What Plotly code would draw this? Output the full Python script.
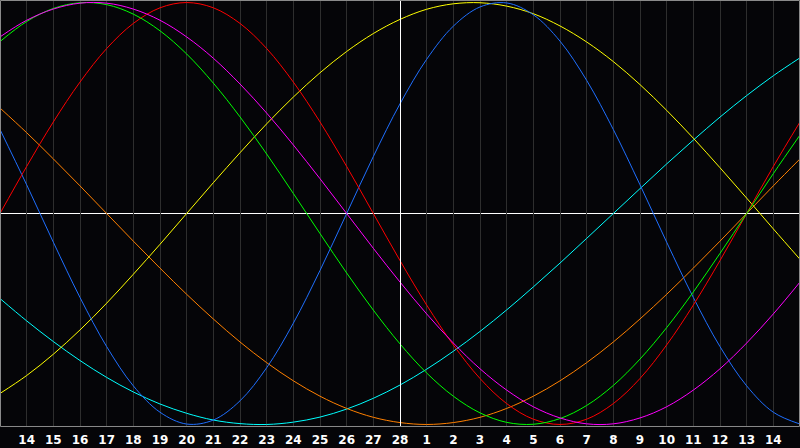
import plotly.graph_objects as go

# day index 0..30 (x=0 is the 13th, x=30 is the 15th of next month)
days = list(range(31))
tick_positions = list(range(1, 30))
tick_labels = ["14", "15", "16", "17", "18", "19", "20", "21", "22", "23", "24", "25", "26", "27", "28",
               "1", "2", "3", "4", "5", "6", "7", "8", "9", "10", "11", "12", "13", "14"]

physical = [0.398, 0.136, -0.136, -0.398, -0.631, -0.817, -0.942, -0.998, -0.979, -0.888, -0.731, -0.520,
            -0.270, 0.000, 0.270, 0.520, 0.731, 0.888, 0.979, 0.998, 0.942, 0.817, 0.631, 0.398, 0.136,
            -0.136, -0.398, -0.631, -0.817, -0.942, -0.998]
emotional = [0.000, 0.223, 0.434, 0.623, 0.782, 0.901, 0.975, 1.000, 0.975, 0.901, 0.782, 0.623, 0.434,
             0.223, 0.000, -0.223, -0.434, -0.623, -0.782, -0.901, -0.975, -1.000, -0.975, -0.901, -0.782,
             -0.623, -0.434, -0.223, 0.000, 0.223, 0.434]
intellectual = [0.815, 0.910, 0.972, 0.999, 0.990, 0.945, 0.866, 0.756, 0.618, 0.458, 0.282, 0.095, -0.095,
                -0.282, -0.458, -0.618, -0.756, -0.866, -0.945, -0.990, -0.999, -0.972, -0.910, -0.815,
                -0.690, -0.541, -0.372, -0.189, 0.000, 0.189, 0.372]
intuitive = [0.837, 0.916, 0.969, 0.997, 0.997, 0.969, 0.916, 0.837, 0.736, 0.614, 0.476, 0.325, 0.165,
             0.000, -0.165, -0.325, -0.476, -0.614, -0.736, -0.837, -0.916, -0.969, -0.997, -0.997, -0.969,
             -0.916, -0.837, -0.736, -0.614, -0.476, -0.325]
aesthetic = [-0.853, -0.768, -0.667, -0.552, -0.425, -0.288, -0.146, 0.000, 0.146, 0.288, 0.425, 0.552,
             0.667, 0.768, 0.853, 0.920, 0.968, 0.994, 0.999, 0.983, 0.947, 0.889, 0.813, 0.720, 0.611,
             0.489, 0.357, 0.217, 0.073, -0.073, -0.217]
awareness = [0.500, 0.383, 0.259, 0.131, 0.000, -0.131, -0.259, -0.383, -0.500, -0.609, -0.707, -0.793,
             -0.866, -0.924, -0.966, -0.991, -1.000, -0.991, -0.966, -0.924, -0.866, -0.793, -0.707, -0.609,
             -0.500, -0.383, -0.259, -0.131, 0.000, 0.131, 0.259]
spiritual = [-0.403, -0.509, -0.607, -0.697, -0.777, -0.846, -0.903, -0.947, -0.979, -0.996, -1.000, -0.989,
             -0.965, -0.927, -0.876, -0.813, -0.738, -0.653, -0.559, -0.457, -0.348, -0.235, -0.118, 0.000,
             0.118, 0.235, 0.348, 0.457, 0.559, 0.653, 0.738]

series = [
    ("Spiritual", spiritual, "#00ffff"),
    ("Awareness", awareness, "#ff8000"),
    ("Aesthetic", aesthetic, "#ffff00"),
    ("Physical", physical, "#1f6fff"),
    ("Emotional", emotional, "#ff0000"),
    ("Intellectual", intellectual, "#00ff00"),
    ("Intuitive", intuitive, "#ff00ff"),
]

fig = go.Figure()
for name, vals, col in series:
    fig.add_trace(go.Scatter(x=days, y=vals, mode="lines", name=name,
                             line=dict(color=col, width=1, shape="spline", smoothing=1)))

# crisp 1px white centre lines (offset half a pixel onto a pixel column/row)
fig.add_shape(type="line", xref="x", yref="paper", x0=15.019, x1=15.019, y0=0, y1=1,
              line=dict(color="#ffffff", width=1), layer="above")
fig.add_shape(type="line", xref="paper", yref="y", x0=0, x1=1, y0=0, y1=0,
              line=dict(color="#ffffff", width=1), layer="below")
fig.add_shape(type="rect", xref="paper", yref="paper", x0=0.000625, x1=0.999375, y0=0.0012, y1=0.9988,
              line=dict(color="#8a8a8a", width=1), layer="above")

fig.update_layout(
    width=800, height=448,
    margin=dict(l=0, r=0, t=0, b=21, autoexpand=False),
    paper_bgcolor="#050508", plot_bgcolor="#050508",
    showlegend=False,
    xaxis=dict(range=[0, 30], tickvals=tick_positions, ticktext=tick_labels,
               showgrid=True, gridcolor="#2e2e2e", gridwidth=1, zeroline=False,
               ticks="", ticklen=0, ticklabelstandoff=4,
               tickfont=dict(color="#ffffff", size=12, family="DejaVu Sans", weight="bold"),
               fixedrange=True),
    yaxis=dict(range=[-1.012, 1.012], showgrid=False, zeroline=False, showticklabels=False,
               fixedrange=True),
)

fig.write_html("out.html", config={"displayModeBar": False},
               post_script="document.body.style.margin='0';document.body.style.background='#050508';")
